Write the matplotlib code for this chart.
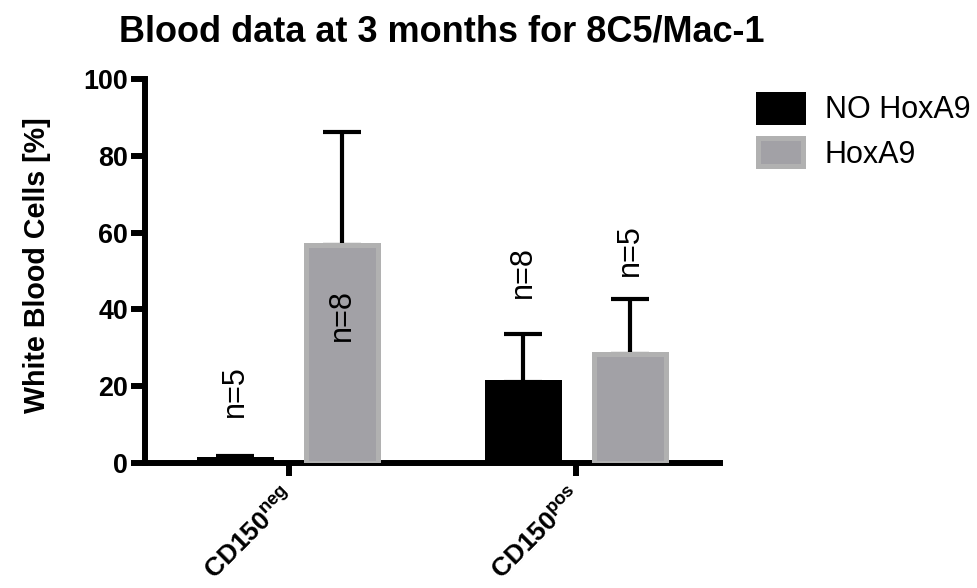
import matplotlib
matplotlib.use("Agg")
import matplotlib.pyplot as plt
import matplotlib.transforms as mtransforms
import numpy as np

plt.rcParams['font.family'] = ['Liberation Sans', 'DejaVu Sans']
plt.rcParams['mathtext.fontset'] = 'custom'
plt.rcParams['mathtext.bf'] = 'Liberation Sans:bold'
plt.rcParams['mathtext.rm'] = 'Liberation Sans'

# Data
categories = [r'$\mathbf{CD150^{neg}}$', r'$\mathbf{CD150^{pos}}$']
series_names = ['NO HoxA9', 'HoxA9']
no_hoxa9_mean = [1.0, 21.1]
no_hoxa9_err = [0.8, 12.5]
hoxa9_mean = [56.7, 28.4]
hoxa9_err = [29.5, 14.3]
no_hoxa9_n = ['n=5', 'n=8']
hoxa9_n = ['n=8', 'n=5']
no_hoxa9_label_y = [18.8, 49.7]
hoxa9_label_y = [38.5, 55.5]
yticks = [0, 20, 40, 60, 80, 100]

fig = plt.figure(figsize=(9.77, 5.88), dpi=100)
ax = fig.add_axes([145/977, 1-463/588, (720-145)/977, (463-79)/588])

x = np.arange(len(categories))
off = 0.186
w = 0.25
lw_bar = 3.6

b1 = ax.bar(x - off, no_hoxa9_mean, width=w, color='black', edgecolor='black',
            linewidth=lw_bar, label=series_names[0], zorder=3)
b2 = ax.bar(x + off, hoxa9_mean, width=w, color='#a2a1a6', edgecolor='#b1b1b1',
            linewidth=lw_bar, label=series_names[1], zorder=3)

for xs, m, e in [(x - off, no_hoxa9_mean, no_hoxa9_err), (x + off, hoxa9_mean, hoxa9_err)]:
    ax.errorbar(xs, m, yerr=[np.zeros(len(m)), e], fmt='none', ecolor='black',
                elinewidth=3, capsize=13.7, capthick=3, zorder=2)

for xs, labs, ys in [(x - off, no_hoxa9_n, no_hoxa9_label_y), (x + off, hoxa9_n, hoxa9_label_y)]:
    for xi, lab, yi in zip(xs, labs, ys):
        ax.text(xi, yi, lab, rotation=90, ha='center', va='center', fontsize=22, zorder=5)

ax.set_xlim(-0.5, 1.5)
ax.set_ylim(0, 100)
ax.set_yticks(yticks)
ax.set_yticklabels([str(t) for t in yticks], fontsize=19.4, fontweight='bold')
ax.set_xticks(x)
ax.set_xticklabels(['' for _ in categories])

# category labels (rotated, anchored at the top-right just below each tick)
trans = mtransforms.blended_transform_factory(ax.transData, ax.transAxes)
trans = trans + mtransforms.ScaledTranslation(11/100, -22/100, fig.dpi_scale_trans)
for xi, lab in zip(x, categories):
    ax.text(xi, 0, lab, transform=trans, rotation=45, ha='right', va='top',
            fontsize=19, clip_on=False)

for s in ['top', 'right']:
    ax.spines[s].set_visible(False)
for s in ['left', 'bottom']:
    ax.spines[s].set_linewidth(4.3)
ax.tick_params(axis='y', length=10, width=4.3, pad=2)
ax.tick_params(axis='x', length=9.5, width=4.3, pad=3)

fig.text(442/977, 1-42/588, 'Blood data at 3 months for 8C5/Mac-1', ha='center',
         va='baseline', fontsize=26, fontweight='bold')
fig.text(37/977, 1-265/588, 'White Blood Cells [%]', rotation=90, ha='center',
         va='center', fontsize=20.6, fontweight='bold')

fig.legend(handles=[b1, b2], labels=series_names, loc='upper left',
           bbox_to_anchor=(757.5/977, 1-93.5/588), frameon=False, fontsize=22,
           borderpad=0, borderaxespad=0, handlelength=1.5, handleheight=1.05,
           handletextpad=0.7, labelspacing=0.42)

fig.savefig('out.png', dpi=100)
